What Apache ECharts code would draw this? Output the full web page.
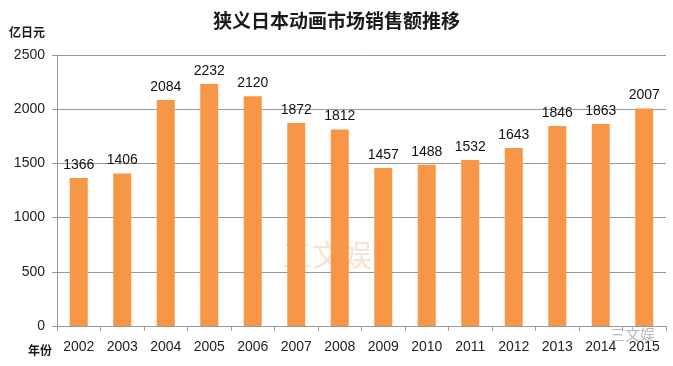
<!DOCTYPE html>
<html><head><meta charset="utf-8">
<script src="https://cdn.jsdelivr.net/npm/echarts@6/dist/echarts.min.js"></script>
<style>html,body{margin:0;padding:0;background:#fff}#c{width:673px;height:366px}</style>
</head><body><div id="c"></div>
<script>
const years = ['2002','2003','2004','2005','2006','2007','2008','2009','2010','2011','2012','2013','2014','2015'];
const sales = [1366,1406,2084,2232,2120,1872,1812,1457,1488,1532,1643,1846,1863,2007];
const yTicks = {min:0, max:2500, interval:500};

const chart = echarts.init(document.getElementById('c'));
chart.setOption({
  animation:false,
  title:{text:'狭义日本动画市场销售额推移', left:'center', top:6,
    textStyle:{fontFamily:'Noto Sans CJK SC', fontSize:19, fontWeight:'bold', color:'#1a1a1a'}},
  graphic:[
    {type:'text', left:9, top:26, style:{text:'亿日元', font:'bold 12px "Noto Sans CJK SC"', fill:'#1a1a1a'}},
    {type:'text', left:28, top:344, style:{text:'年份', font:'bold 12px "Noto Sans CJK SC"', fill:'#1a1a1a'}},
    {type:'text', left:610, top:327, z:-1, style:{text:'三文娱', font:'15px "Noto Sans CJK SC"', fill:'#b8b8b8'}},
    {type:'text', left:282, top:240, style:{text:'三文娱', font:'30px "Noto Sans CJK SC"', fill:'rgba(240,190,150,0.45)'}}
  ],
  grid:{left:57, right:7, top:55, bottom:40},
  xAxis:{type:'category', data:years,
    axisLine:{lineStyle:{color:'#999'}},
    axisTick:{show:true, length:5, lineStyle:{color:'#999'}},
    axisLabel:{color:'#222', fontSize:14, fontFamily:'Liberation Sans', margin:14}},
  yAxis:{type:'value', min:yTicks.min, max:yTicks.max, interval:yTicks.interval,
    axisLine:{show:true, lineStyle:{color:'#999'}},
    axisTick:{show:true, length:5, lineStyle:{color:'#999'}},
    splitLine:{lineStyle:{color:'#999'}},
    axisLabel:{color:'#222', fontSize:14, fontFamily:'Liberation Sans', margin:12, formatter:v=>String(v)}},
  series:[{type:'bar', data:sales, barWidth:18,
    itemStyle:{color:'#F79646'},
    label:{show:true, position:'top', distance:6, color:'#111', fontSize:14, fontFamily:'Liberation Sans'}}]
});
</script></body></html>
